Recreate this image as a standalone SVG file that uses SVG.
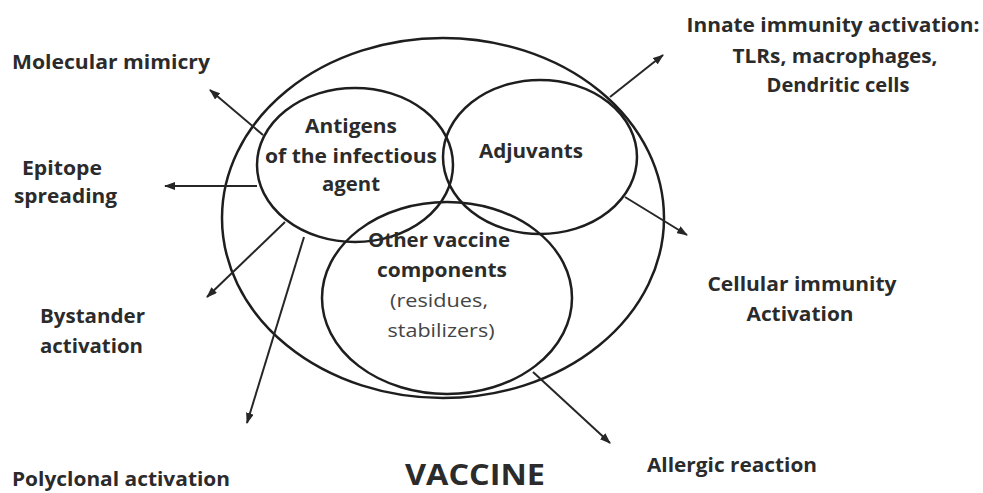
<svg xmlns="http://www.w3.org/2000/svg" width="983" height="493" viewBox="0 0 983 493">
<style>
.sh{fill:none;stroke:#1e1e1e;stroke-width:2.5}
.t{font-family:"Open Sans","Liberation Sans",sans-serif;font-weight:bold;font-size:19px;fill:#2b2b2b}
.n{font-family:"Open Sans","Liberation Sans",sans-serif;font-weight:normal;font-size:19px;fill:#444}
.c{stroke:#262626;stroke-width:2;fill:none}
</style>
<defs>
<marker id="ah" markerUnits="userSpaceOnUse" markerWidth="12" markerHeight="8" refX="10" refY="4" orient="auto">
<path d="M0,0 L11,4 L0,8 z" fill="#262626"/>
</marker>
</defs>
<rect width="983" height="493" fill="#fff"/>
<g id="vaccine">
<ellipse class="sh" cx="443" cy="218" rx="221" ry="180"/>
<text class="t" x="475" y="485" text-anchor="middle" style="font-size:28px" textLength="140" lengthAdjust="spacingAndGlyphs">VACCINE</text>
</g>
<g id="antigens">
<ellipse class="sh" cx="355" cy="165" rx="98" ry="77"/>
<text class="t" x="351" y="133" text-anchor="middle" textLength="92" lengthAdjust="spacingAndGlyphs">Antigens</text>
<text class="t" x="351" y="163" text-anchor="middle" textLength="172" lengthAdjust="spacingAndGlyphs">of the infectious</text>
<text class="t" x="351" y="191" text-anchor="middle" textLength="58" lengthAdjust="spacingAndGlyphs">agent</text>
</g>
<g id="adjuvants">
<ellipse class="sh" cx="540" cy="157" rx="97" ry="77"/>
<text class="t" x="531" y="158" text-anchor="middle" textLength="104" lengthAdjust="spacingAndGlyphs">Adjuvants</text>
</g>
<g id="other">
<ellipse class="sh" cx="447" cy="298" rx="125" ry="96"/>
<text class="t" x="439" y="247" text-anchor="middle" textLength="142" lengthAdjust="spacingAndGlyphs">Other vaccine</text>
<text class="t" x="442" y="277" text-anchor="middle" textLength="130" lengthAdjust="spacingAndGlyphs">components</text>
<text class="n" x="439" y="307" text-anchor="middle" textLength="98" lengthAdjust="spacingAndGlyphs">(residues,</text>
<text class="n" x="441" y="337" text-anchor="middle" textLength="107" lengthAdjust="spacingAndGlyphs">stabilizers)</text>
</g>
<g id="mimicry"><text class="t" x="12" y="69" textLength="198" lengthAdjust="spacingAndGlyphs">Molecular mimicry</text></g>
<g id="epitope">
<text class="t" x="22" y="175" textLength="80" lengthAdjust="spacingAndGlyphs">Epitope</text>
<text class="t" x="14" y="203" textLength="103" lengthAdjust="spacingAndGlyphs">spreading</text>
</g>
<g id="bystander">
<text class="t" x="40" y="323" textLength="105" lengthAdjust="spacingAndGlyphs">Bystander</text>
<text class="t" x="40" y="353" textLength="103" lengthAdjust="spacingAndGlyphs">activation</text>
</g>
<g id="polyclonal"><text class="t" x="12" y="486" textLength="218" lengthAdjust="spacingAndGlyphs">Polyclonal activation</text></g>
<g id="innate">
<text class="t" x="833" y="32" text-anchor="middle" textLength="293" lengthAdjust="spacingAndGlyphs">Innate immunity activation:</text>
<text class="t" x="835" y="63" text-anchor="middle" textLength="205" lengthAdjust="spacingAndGlyphs">TLRs, macrophages,</text>
<text class="t" x="838" y="92" text-anchor="middle" textLength="143" lengthAdjust="spacingAndGlyphs">Dendritic cells</text>
</g>
<g id="cellular">
<text class="t" x="802" y="291" text-anchor="middle" textLength="189" lengthAdjust="spacingAndGlyphs">Cellular immunity</text>
<text class="t" x="800" y="321" text-anchor="middle" textLength="107" lengthAdjust="spacingAndGlyphs">Activation</text>
</g>
<g id="allergic"><text class="t" x="647" y="472" textLength="170" lengthAdjust="spacingAndGlyphs">Allergic reaction</text></g>
<g id="connectors">
<line class="c" x1="263" y1="135" x2="210" y2="90" marker-end="url(#ah)"/>
<line class="c" x1="257" y1="186" x2="165" y2="186" marker-end="url(#ah)"/>
<line class="c" x1="285" y1="222" x2="207" y2="297" marker-end="url(#ah)"/>
<line class="c" x1="304" y1="237" x2="247" y2="423" marker-end="url(#ah)"/>
<line class="c" x1="610" y1="97" x2="663" y2="55" marker-end="url(#ah)"/>
<line class="c" x1="625" y1="197" x2="687" y2="235" marker-end="url(#ah)"/>
<line class="c" x1="533" y1="372" x2="610" y2="443" marker-end="url(#ah)"/>
</g>
</svg>
